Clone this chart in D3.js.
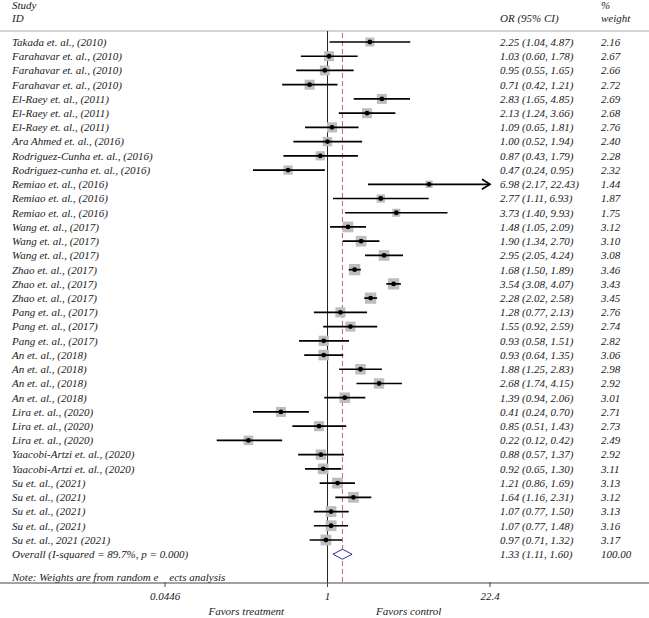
<!DOCTYPE html>
<meta charset="utf-8">
<style>
    body { margin: 0; background: #fff; }
    text { font-family: "Liberation Serif", "Times New Roman", serif; font-style: italic; font-size: 11px; fill: #1a1a1a; }
    .ci { stroke: #000; stroke-width: 1.7; fill: none; }
    .box { fill: #bdbdbd; }
    .dot { fill: #000; }
</style>
<body></body>
<script src="https://d3js.org/d3.v7.min.js"></script>
<script>
    // study labels, estimates and weights
    var studies = ["Takada et. al., (2010)", "Farahavar et. al., (2010)", "Farahavar et. al., (2010)", "Farahavar et. al., (2010)",
        "El-Raey et. al., (2011)", "El-Raey et. al., (2011)", "El-Raey et. al., (2011)", "Ara Ahmed et. al., (2016)",
        "Rodriguez-Cunha et. al., (2016)", "Rodriguez-cunha et. al., (2016)", "Remiao et. al., (2016)", "Remiao et. al., (2016)",
        "Remiao et. al., (2016)", "Wang et. al., (2017)", "Wang et. al., (2017)", "Wang et. al., (2017)",
        "Zhao et. al., (2017)", "Zhao et. al., (2017)", "Zhao et. al., (2017)", "Pang et. al., (2017)",
        "Pang et. al., (2017)", "Pang et. al., (2017)", "An et. al., (2018)", "An et. al., (2018)",
        "An et. al., (2018)", "An et. al., (2018)", "Lira et. al., (2020)", "Lira et. al., (2020)",
        "Lira et. al., (2020)", "Yaacobi-Artzi et. al., (2020)", "Yaacobi-Artzi et. al., (2020)", "Su et. al., (2021)",
        "Su et. al., (2021)", "Su et. al., (2021)", "Su et. al., (2021)", "Su et. al., 2021 (2021)"];
    var or = [2.25, 1.03, 0.95, 0.71, 2.83, 2.13, 1.09, 1.00, 0.87, 0.47, 6.98, 2.77, 3.73, 1.48, 1.90, 2.95, 1.68, 3.54, 2.28,
        1.28, 1.55, 0.93, 0.93, 1.88, 2.68, 1.39, 0.41, 0.85, 0.22, 0.88, 0.92, 1.21, 1.64, 1.07, 1.07, 0.97];
    var lower = [1.04, 0.60, 0.55, 0.42, 1.65, 1.24, 0.65, 0.52, 0.43, 0.24, 2.17, 1.11, 1.40, 1.05, 1.34, 2.05, 1.50, 3.08, 2.02,
        0.77, 0.92, 0.58, 0.64, 1.25, 1.74, 0.94, 0.24, 0.51, 0.12, 0.57, 0.65, 0.86, 1.16, 0.77, 0.77, 0.71];
    var upper = [4.87, 1.78, 1.65, 1.21, 4.85, 3.66, 1.81, 1.94, 1.79, 0.95, 22.43, 6.93, 9.93, 2.09, 2.70, 4.24, 1.89, 4.07, 2.58,
        2.13, 2.59, 1.51, 1.35, 2.83, 4.15, 2.06, 0.70, 1.43, 0.42, 1.37, 1.30, 1.69, 2.31, 1.50, 1.48, 1.32];
    var weight = ["2.16", "2.67", "2.66", "2.72", "2.69", "2.68", "2.76", "2.40", "2.28", "2.32", "1.44", "1.87", "1.75", "3.12",
        "3.10", "3.08", "3.46", "3.43", "3.45", "2.76", "2.74", "2.82", "3.06", "2.98", "2.92", "3.01", "2.71", "2.73",
        "2.49", "2.92", "3.11", "3.13", "3.12", "3.13", "3.16", "3.17"];
    var overall = { label: "Overall  (I-squared = 89.7%, p = 0.000)", or: 1.33, lo: 1.11, hi: 1.60, weight: "100.00" };
    var xTicks = [0.0446, 1, 22.4];
    var tickLabels = ["0.0446", "1", "22.4"];

    var W = 649, H = 618;
    var svg = d3.select("body").append("svg").attr("width", W).attr("height", H);

    var x = d3.scaleLog().domain([0.0446, 22.4]).range([165, 490]);
    var y = d3.scaleLinear().domain([0, studies.length - 1]).range([42, 540]);
    var boxSize = d3.scaleSqrt().domain([0, 3.46]).range([0, 11.3]);
    var axisY = 583;

    // header
    svg.append("text").attr("x", 12).attr("y", 9).text("Study");
    svg.append("text").attr("x", 12).attr("y", 22).text("ID");
    svg.append("text").attr("x", 500).attr("y", 22).text("OR (95% CI)");
    svg.append("text").attr("x", 601).attr("y", 9).text("%");
    svg.append("text").attr("x", 601).attr("y", 22).text("weight");
    svg.append("line").attr("x1", 0).attr("x2", W).attr("y1", 31).attr("y2", 31)
        .attr("stroke", "#d4d4d4").attr("stroke-width", 2);

    // null line and overall line
    svg.append("line").attr("x1", x(1)).attr("x2", x(1)).attr("y1", 31).attr("y2", axisY)
        .attr("stroke", "#222").attr("stroke-width", 1);
    svg.append("line").attr("x1", x(overall.or)).attr("x2", x(overall.or)).attr("y1", 33).attr("y2", axisY)
        .attr("stroke", "#c8606a").attr("stroke-width", 1).attr("stroke-dasharray", "5,3");

    var rows = svg.append("g").selectAll("g").data(studies).join("g")
        .attr("transform", (d, i) => "translate(0," + y(i) + ")");

    rows.append("text").attr("x", 12).attr("dy", "0.35em").text(d => d);

    rows.append("rect").attr("class", "box")
        .attr("x", (d, i) => x(or[i]) - boxSize(+weight[i]) / 2)
        .attr("y", (d, i) => -boxSize(+weight[i]) / 2)
        .attr("width", (d, i) => boxSize(+weight[i]))
        .attr("height", (d, i) => boxSize(+weight[i]));

    rows.append("line").attr("class", "ci")
        .attr("x1", (d, i) => x(Math.max(lower[i], 0.0446)))
        .attr("x2", (d, i) => x(Math.min(upper[i], 22.4)));

    // open arrowheads where the CI runs past the axis
    rows.filter((d, i) => upper[i] > 22.4).append("path").attr("class", "ci")
        .attr("d", "M" + (x(22.4) - 8) + ",-5L" + x(22.4) + ",0L" + (x(22.4) - 8) + ",5");

    rows.append("circle").attr("class", "dot")
        .attr("cx", (d, i) => x(or[i])).attr("r", 2.4);

    rows.append("text").attr("x", 500).attr("dy", "0.35em")
        .text((d, i) => or[i].toFixed(2) + " (" + lower[i].toFixed(2) + ", " + upper[i].toFixed(2) + ")");
    rows.append("text").attr("x", 601).attr("dy", "0.35em").text((d, i) => weight[i]);

    // overall row
    var oy = y(studies.length);
    svg.append("text").attr("x", 12).attr("y", oy).attr("dy", "0.35em").text(overall.label);
    svg.append("path")
        .attr("d", "M" + x(overall.lo) + "," + oy + "L" + x(overall.or) + "," + (oy - 5) +
            "L" + x(overall.hi) + "," + oy + "L" + x(overall.or) + "," + (oy + 5) + "Z")
        .attr("fill", "#fff").attr("stroke", "#2b2ba0").attr("stroke-width", 1);
    svg.append("text").attr("x", 500).attr("y", oy).attr("dy", "0.35em")
        .text(overall.or.toFixed(2) + " (" + overall.lo.toFixed(2) + ", " + overall.hi.toFixed(2) + ")");
    svg.append("text").attr("x", 601).attr("y", oy).attr("dy", "0.35em").text(overall.weight);

    svg.append("text").attr("x", 12).attr("y", 577).attr("dy", "0.35em")
        .text("Note: Weights are from random e\u2002\u2002ects analysis");

    // x axis
    svg.append("line").attr("x1", 0).attr("x2", W).attr("y1", axisY).attr("y2", axisY)
        .attr("stroke", "#444").attr("stroke-width", 1);
    var ax = svg.append("g").selectAll("g").data(xTicks).join("g")
        .attr("transform", d => "translate(" + x(d) + "," + axisY + ")");
    ax.append("line").attr("y1", -1).attr("y2", 4).attr("stroke", "#444");
    ax.append("text").attr("y", 17).attr("text-anchor", "middle").text((d, i) => tickLabels[i]);

    svg.append("text").attr("x", (x(0.0446) + x(1)) / 2).attr("y", 615).attr("text-anchor", "middle").text("Favors treatment");
    svg.append("text").attr("x", (x(1) + x(22.4)) / 2).attr("y", 615).attr("text-anchor", "middle").text("Favors control");
</script>
